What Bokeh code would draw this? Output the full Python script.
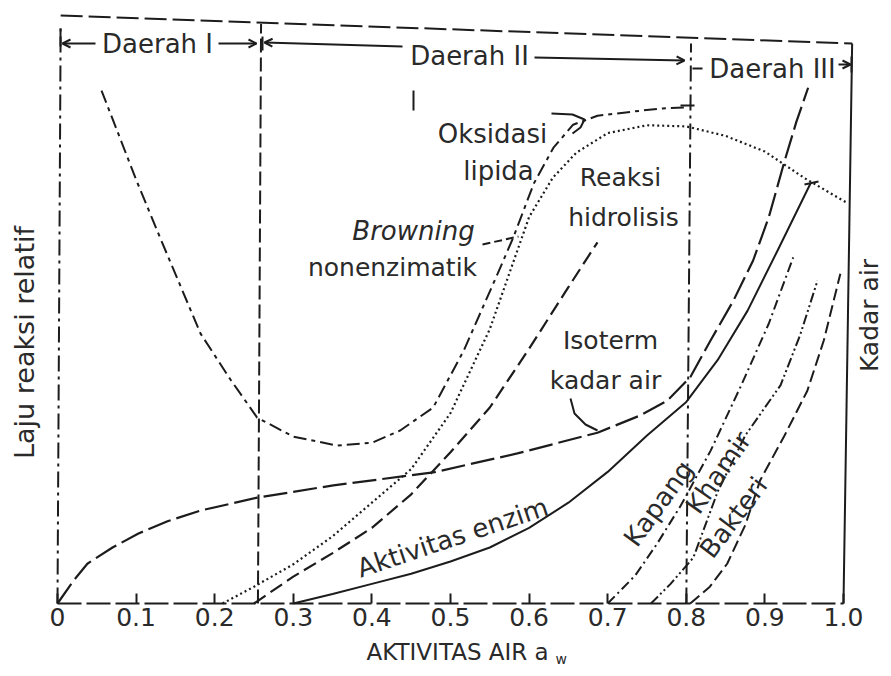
from math import radians
from bokeh.plotting import figure
from bokeh.models import (Range1d, Label, FixedTicker, Arrow, OpenHead, CustomJSTickFormatter,
                          LinearAxis)
from bokeh.embed import file_html
from bokeh.resources import INLINE

# ---------------- data ----------------
xticks = [0.0, 0.1, 0.2, 0.3, 0.4, 0.5, 0.6, 0.7, 0.8, 0.9, 1.0]
xtick_labels = ["0", "0.1", "0.2", "0.3", "0.4", "0.5", "0.6", "0.7", "0.8", "0.9", "1.0"]

zone_bounds = [0.0, 0.255, 0.8, 1.0]
zone_names = ["Daerah I", "Daerah II", "Daerah III"]

# Oksidasi lipida (U-shaped, dash-dot)
lipid_x = [0.056, 0.10, 0.13, 0.182, 0.22, 0.254, 0.30, 0.356, 0.40, 0.436, 0.478, 0.517,
           0.56, 0.58, 0.606, 0.631, 0.656, 0.687, 0.742, 0.77, 0.80]
lipid_y = [0.916, 0.757, 0.655, 0.482, 0.40, 0.332, 0.298, 0.282, 0.287, 0.309, 0.35, 0.452,
           0.589, 0.654, 0.75, 0.814, 0.855, 0.871, 0.880, 0.884, 0.886]

# Browning nonenzimatik (dotted)
brown_x = [0.21, 0.25, 0.30, 0.35, 0.40, 0.45, 0.50, 0.55, 0.60, 0.63, 0.66, 0.70, 0.75,
           0.80, 0.85, 0.90, 0.95, 1.005]
brown_y = [0.0, 0.03, 0.07, 0.12, 0.18, 0.24, 0.34, 0.49, 0.69, 0.76, 0.805, 0.84, 0.854,
           0.852, 0.835, 0.807, 0.76, 0.715]

# Reaksi hidrolisis (dashed)
hydro_x = [0.25, 0.30, 0.35, 0.40, 0.45, 0.50, 0.55, 0.60, 0.65, 0.687]
hydro_y = [0.0, 0.048, 0.09, 0.135, 0.195, 0.27, 0.35, 0.455, 0.565, 0.645]

# Isoterm kadar air (long dash)
iso_x = [0.0, 0.02, 0.038, 0.07, 0.103, 0.14, 0.182, 0.254, 0.351, 0.478, 0.585, 0.687,
         0.74, 0.776, 0.805, 0.831, 0.86, 0.885, 0.905, 0.925, 0.94, 0.955]
iso_y = [0.0, 0.04, 0.071, 0.10, 0.125, 0.147, 0.166, 0.189, 0.211, 0.234, 0.268, 0.305,
         0.335, 0.3625, 0.404, 0.47, 0.541, 0.6125, 0.69, 0.79, 0.86, 0.921]

# Aktivitas enzim (solid)
enz_x = [0.30, 0.35, 0.40, 0.45, 0.50, 0.55, 0.60, 0.65, 0.70, 0.75, 0.80, 0.84, 0.878, 0.916, 0.958]
enz_y = [0.0, 0.017, 0.035, 0.053, 0.075, 0.10, 0.135, 0.18, 0.235, 0.30, 0.36, 0.435, 0.523, 0.63, 0.75]

# Kapang (dash-dot)
mold_x = [0.70, 0.735, 0.763, 0.793, 0.831, 0.87, 0.905, 0.936]
mold_y = [0.0, 0.05, 0.107, 0.175, 0.273, 0.39, 0.50, 0.618]

# Khamir (dash-dot-dot)
yeast_x = [0.755, 0.78, 0.809, 0.84, 0.875, 0.92, 0.945, 0.967]
yeast_y = [0.0, 0.035, 0.082, 0.20, 0.30, 0.39, 0.48, 0.577]

# Bakteri (dashed)
bact_x = [0.805, 0.83, 0.852, 0.875, 0.894, 0.925, 0.954, 0.975, 0.996]
bact_y = [0.0, 0.03, 0.071, 0.14, 0.22, 0.30, 0.38, 0.47, 0.589]

# ---------------- figure ----------------
INK = "#1c1c1c"
TXT = "#2a2a2a"
FONT = "DejaVu Sans"

W, H = 883, 668
X0, Y0, SX, SY = 57.0, 603.0, 786.0, 560.0   # pixel position of (0,0) and pixels per unit

p = figure(width=W, height=H,
           x_range=Range1d(-X0 / SX, (W - X0) / SX),
           y_range=Range1d((Y0 - H) / SY, Y0 / SY),
           output_backend="svg", toolbar_location=None,
           x_axis_location=None, y_axis_location=None, min_border=0)
p.outline_line_color = None
p.grid.visible = False
p.background_fill_color = "white"
p.border_fill_color = "white"

ax = LinearAxis(fixed_location=0)
ax.ticker = FixedTicker(ticks=xticks)
ax.formatter = CustomJSTickFormatter(args=dict(tv=xticks, lab=xtick_labels), code="""
    let k = -1;
    for (let j = 0; j < tv.length; j++) { if (Math.abs(tv[j] - tick) < 1e-6) { k = j; } }
    return k >= 0 ? lab[k] : '';
""")
ax.bounds = (0, 1.0)
ax.axis_line_dash = "24 5"
ax.axis_line_width = 2
ax.axis_line_color = INK
ax.major_tick_in = 10
ax.major_tick_out = 0
ax.major_tick_line_width = 2
ax.major_tick_line_color = INK
ax.minor_tick_line_color = None
ax.major_label_text_font = FONT
ax.major_label_text_font_size = "25px"
ax.major_label_text_color = TXT
ax.major_label_standoff = 4
p.add_layout(ax, "below")


def P(xp, yp):
    """picture pixel -> data position (for annotation placement)"""
    return (xp - X0) / SX, (Y0 - yp) / SY


# frame / region lines (slightly skewed as in the scan)
p.segment(x0=[zone_bounds[0]], y0=[0], x1=[zone_bounds[0] + 0.004], y1=[1.027],
          line_color=INK, line_width=2, line_dash="16 5 3 5")
p.segment(x0=[zone_bounds[1]], y0=[0], x1=[zone_bounds[1] + 0.004], y1=[1.035],
          line_color=INK, line_width=2, line_dash="14 5")
p.segment(x0=[zone_bounds[2]], y0=[0], x1=[zone_bounds[2] + 0.006], y1=[1.0],
          line_color=INK, line_width=2, line_dash="16 5 3 5")
p.segment(x0=[zone_bounds[3]], y0=[0], x1=[zone_bounds[3] + 0.011], y1=[1.0],
          line_color=INK, line_width=2)
# top frame line
p.segment(x0=[0.004], y0=[1.05], x1=[1.011], y1=[1.0],
          line_color=INK, line_width=2, line_dash="22 6")

# curves
p.line(lipid_x, lipid_y, line_color=INK, line_width=2, line_dash="13 5 4 5")
p.line(brown_x, brown_y, line_color=INK, line_width=2.2, line_dash="2 3")
p.line(hydro_x, hydro_y, line_color=INK, line_width=2.2, line_dash="14 6")
p.line(iso_x, iso_y, line_color=INK, line_width=2.2, line_dash="24 6")
p.line(enz_x, enz_y, line_color=INK, line_width=2)
p.line(mold_x, mold_y, line_color=INK, line_width=2, line_dash="10 4 2 4")
p.line(yeast_x, yeast_y, line_color=INK, line_width=2, line_dash="10 3 2 3 2 3")
p.line(bact_x, bact_y, line_color=INK, line_width=2, line_dash="12 5")


def poly(pts, dash="solid"):
    q = [P(*t) for t in pts]
    p.line([a for a, b in q], [b for a, b in q], line_color=INK, line_width=2, line_dash=dash)


# leader lines / small marks
poly([(551, 113), (572, 114), (584, 119), (580, 127), (572, 133)])
poly([(482, 244), (518, 236)], "8 4")
poly([(570, 398), (574, 413), (585, 424), (597, 430)])
poly([(413, 90), (413, 110)])
poly([(680, 105), (694, 105)])
poly([(804, 184), (818, 181)])


# region brackets
def arrow(a, b):
    x0, y0 = P(*a)
    x1, y1 = P(*b)
    p.add_layout(Arrow(x_start=x0, y_start=y0, x_end=x1, y_end=y1,
                       end=OpenHead(size=8, line_width=2, line_color=INK),
                       line_color=INK, line_width=2))


poly([(60, 28), (60, 46)])
arrow((95, 43), (62, 43))
arrow((218, 43), (256, 43))
poly([(262, 36), (262, 50)])
arrow((402, 46), (264, 42))
arrow((534, 57), (684, 60))
arrow((838, 64), (850, 64))
poly([(851, 56), (851, 72)])
poly([(692, 68), (702, 68)])


def label(text, xp, yp, size=25, angle=0.0, style="normal", align="center"):
    x, y = P(xp, yp)
    p.add_layout(Label(x=x, y=y, text=text, angle=radians(angle), text_align=align,
                       text_baseline="middle", text_font=FONT, text_font_size=f"{size}px",
                       text_font_style=style, text_color=TXT))


label(zone_names[0], 157, 43, 26)
label(zone_names[1], 469, 55, 26)
label(zone_names[2], 772, 68, 26)
label("Oksidasi", 492, 133, 26)
label("lipida", 498, 170, 26)
label("Browning", 413, 230, 26, style="italic")
label("nonenzimatik", 392, 267, 25)
label("Reaksi", 620, 177, 25)
label("hidrolisis", 623, 217, 25)
label("Isoterm", 610, 340, 25)
label("kadar air", 605, 380, 25)
label("Aktivitas enzim", 452, 537, 26, angle=18.5)
label("Kapang", 658, 503, 26, angle=54)
label("Khamir", 718, 472, 26, angle=55)
label("Bakteri", 733, 517, 26, angle=53)

# axis titles
label("Laju reaksi relatif", 24, 342, 27, angle=90)
label("Kadar air", 869, 315, 25, angle=90)
label("AKTIVITAS AIR a", 366, 651, 23, align="left")
label("w", 555, 658, 14, align="left")

open("out.html", "w").write(file_html(p, INLINE))
